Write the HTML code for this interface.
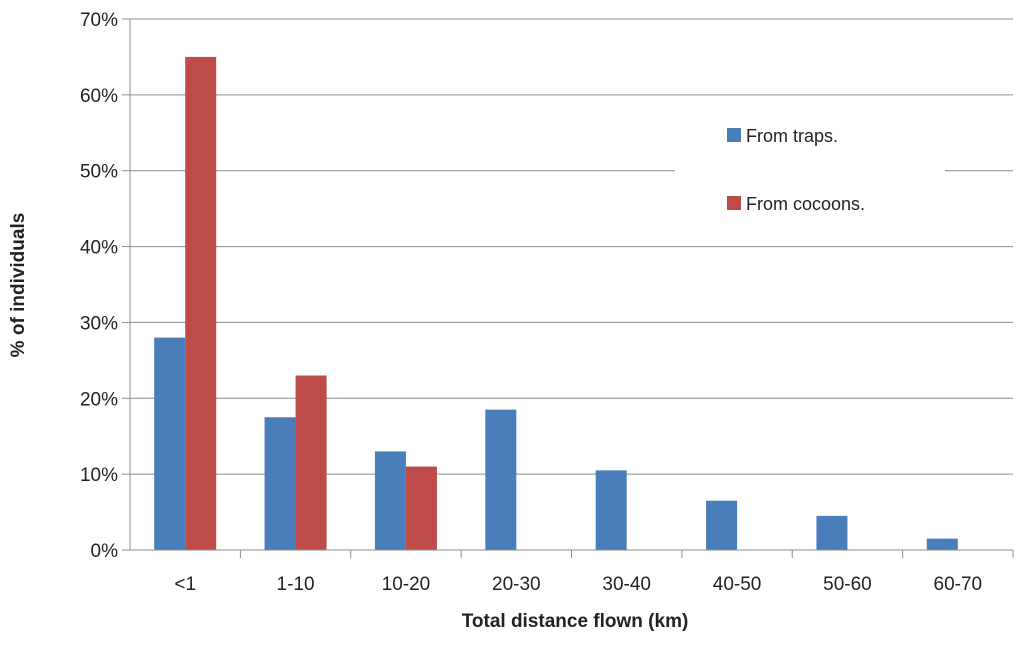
<!DOCTYPE html>
<html><head><meta charset="utf-8"><style>
body{margin:0;background:#fff;}
svg text{font-family:"Liberation Sans",Arial,sans-serif;fill:#222;}
</style></head><body>
<svg width="1024" height="640" viewBox="0 0 1024 640">
<g id="grid"></g><g id="bars"></g><g id="axes"></g>
<g>
<rect x="675" y="110" width="270" height="115" fill="#fff"/>
<rect x="727" y="128" width="14" height="14" fill="#4a7ebb"/>
<text x="746" y="142" font-size="18">From traps.</text>
<rect x="727" y="196" width="14" height="14" fill="#be4b48"/>
<text x="746" y="210" font-size="18">From cocoons.</text>
</g>
<text x="575" y="627" font-size="19" font-weight="bold" text-anchor="middle">Total distance flown (km)</text>
<text transform="translate(24,285) rotate(-90)" font-size="19" font-weight="bold" text-anchor="middle">% of individuals</text>
</svg>
<script>
const categories=["<1","1-10","10-20","20-30","30-40","40-50","50-60","60-70"];
const trapsValues=[28,17.5,13,18.5,10.5,6.5,4.5,1.5];
const cocoonValues=[65,23,11,null,null,null,null,null];
const yTicks=[0,10,20,30,40,50,60,70];
const NS="http://www.w3.org/2000/svg";
const X0=130,X1=1013,Y0=550,Y1=19,YMAX=70;
const bw=(X1-X0)/categories.length;
function y(v){return Y0-(v/YMAX)*(Y0-Y1);}
function xc(i){return X0+bw*(i+0.5);}
function mk(t,a,p){const e=document.createElementNS(NS,t);for(const k in a)e.setAttribute(k,a[k]);p.appendChild(e);return e;}
const grid=document.getElementById('grid'),bars=document.getElementById('bars'),axes=document.getElementById('axes');
yTicks.forEach(t=>{
  if(t>0){const l=mk('line',{x1:X0,x2:X1,y1:y(t),y2:y(t),stroke:'#8c8c8c','stroke-width':1},grid);
  
  }
  mk('line',{x1:X0-8,x2:X0,y1:y(t),y2:y(t),stroke:'#8c8c8c'},axes);
  const tx=mk('text',{x:X0-12,y:y(t)+7,'font-size':19,'text-anchor':'end'},axes);
  tx.textContent=t+'%';
  
  
});
mk('line',{x1:X0,x2:X0,y1:Y1,y2:Y0,stroke:'#8c8c8c'},axes);
mk('line',{x1:X0-8,x2:X1,y1:Y0,y2:Y0,stroke:'#8c8c8c'},axes);
categories.forEach((c,i)=>{
  mk('line',{x1:X0+bw*(i+1),x2:X0+bw*(i+1),y1:Y0,y2:Y0+8,stroke:'#8c8c8c'},axes);
  const tx=mk('text',{x:xc(i),y:590,'font-size':19,'text-anchor':'middle'},axes);
  tx.textContent=c;
  
  
  const w=31;
  const b=mk('rect',{x:xc(i)-w,y:y(trapsValues[i]),width:w,height:Y0-y(trapsValues[i]),fill:'#4a7ebb'},bars);
  
  
  if(cocoonValues[i]!=null){
    const r=mk('rect',{x:xc(i),y:y(cocoonValues[i]),width:w,height:Y0-y(cocoonValues[i]),fill:'#be4b48'},bars);
    
    
  }
});
</script>
</body></html>
